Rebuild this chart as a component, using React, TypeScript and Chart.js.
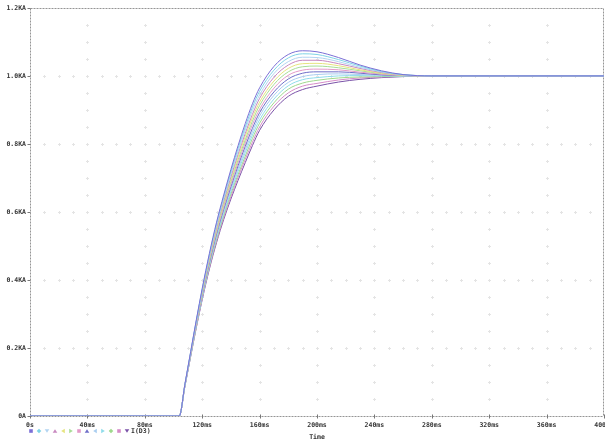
import React, { useEffect, useRef } from 'react';
import { Chart, registerables } from 'chart.js';

Chart.register(...registerables);

// ---- data (time in ms, current in kA) ----
const timesMs = [0, 104, 108, 112, 116, 120, 125, 130, 135, 140, 145, 150, 155, 160, 170, 180, 190, 200, 215, 230, 245, 260, 280, 320, 400];

const trace01 = [0, 0, 0.095, 0.190, 0.285, 0.375, 0.478, 0.570, 0.650, 0.725, 0.795, 0.860, 0.918, 0.965, 1.028, 1.063, 1.074, 1.071, 1.054, 1.032, 1.015, 1.004, 1, 1, 1];
const trace02 = [0, 0, 0.094, 0.189, 0.283, 0.372, 0.474, 0.565, 0.644, 0.718, 0.787, 0.850, 0.908, 0.955, 1.017, 1.053, 1.065, 1.063, 1.048, 1.029, 1.013, 1.004, 1, 1, 1];
const trace03 = [0, 0, 0.094, 0.188, 0.281, 0.370, 0.470, 0.560, 0.638, 0.711, 0.778, 0.841, 0.898, 0.944, 1.007, 1.042, 1.055, 1.054, 1.042, 1.025, 1.012, 1.003, 1, 1, 1];
const trace04 = [0, 0, 0.093, 0.186, 0.279, 0.367, 0.467, 0.555, 0.632, 0.703, 0.770, 0.831, 0.887, 0.934, 0.996, 1.032, 1.046, 1.046, 1.036, 1.022, 1.010, 1.003, 1, 1, 1];
const trace05 = [0, 0, 0.093, 0.185, 0.277, 0.364, 0.463, 0.550, 0.626, 0.696, 0.761, 0.822, 0.877, 0.923, 0.985, 1.022, 1.036, 1.037, 1.030, 1.018, 1.008, 1.002, 1, 1, 1];
const trace06 = [0, 0, 0.092, 0.184, 0.275, 0.361, 0.459, 0.545, 0.620, 0.689, 0.753, 0.812, 0.867, 0.913, 0.975, 1.012, 1.027, 1.029, 1.024, 1.015, 1.007, 1.002, 1, 1, 1];
const trace07 = [0, 0, 0.092, 0.183, 0.274, 0.359, 0.455, 0.540, 0.614, 0.682, 0.744, 0.803, 0.857, 0.902, 0.964, 1.002, 1.017, 1.020, 1.018, 1.011, 1.005, 1.001, 1, 1, 1];
const trace08 = [0, 0, 0.091, 0.182, 0.272, 0.356, 0.451, 0.535, 0.608, 0.674, 0.736, 0.793, 0.846, 0.892, 0.953, 0.991, 1.008, 1.012, 1.012, 1.008, 1.003, 1.001, 1, 1, 1];
const trace09 = [0, 0, 0.090, 0.181, 0.270, 0.353, 0.447, 0.530, 0.602, 0.667, 0.727, 0.783, 0.836, 0.882, 0.943, 0.981, 0.998, 1.004, 1.006, 1.004, 1.002, 1.000, 1, 1, 1];
const trace10 = [0, 0, 0.090, 0.179, 0.268, 0.350, 0.444, 0.525, 0.596, 0.660, 0.719, 0.774, 0.826, 0.871, 0.932, 0.971, 0.989, 0.995, 1.000, 1.001, 1.000, 1.000, 1, 1, 1];
const trace11 = [0, 0, 0.089, 0.178, 0.266, 0.348, 0.440, 0.520, 0.590, 0.653, 0.710, 0.764, 0.816, 0.861, 0.921, 0.961, 0.979, 0.987, 0.994, 0.997, 0.998, 0.999, 1, 1, 1];
const trace12 = [0, 0, 0.089, 0.177, 0.264, 0.345, 0.436, 0.515, 0.584, 0.645, 0.702, 0.755, 0.805, 0.850, 0.911, 0.950, 0.970, 0.978, 0.988, 0.994, 0.997, 0.999, 1, 1, 1];
const trace13 = [0, 0, 0.088, 0.176, 0.262, 0.342, 0.432, 0.510, 0.578, 0.638, 0.693, 0.745, 0.795, 0.840, 0.900, 0.940, 0.960, 0.970, 0.982, 0.990, 0.995, 0.998, 1, 1, 1];

const traces = [trace01, trace02, trace03, trace04, trace05, trace06, trace07, trace08, trace09, trace10, trace11, trace12, trace13];
const traceName = 'I(D3)';

const xTickValues = [0, 40, 80, 120, 160, 200, 240, 280, 320, 360, 400];
const xTickLabels = ['0s', '40ms', '80ms', '120ms', '160ms', '200ms', '240ms', '280ms', '320ms', '360ms', '400ms'];
const yTickValues = [0, 0.2, 0.4, 0.6, 0.8, 1.0, 1.2];
const yTickLabels = ['0A', '0.2KA', '0.4KA', '0.6KA', '0.8KA', '1.0KA', '1.2KA'];
const xTitle = 'Time';

// ---- styles ----
const traceColors = [
  '#7b6fd6', '#7fd3e6', '#b2d4f2', '#c889c0', '#e6e47e', '#a8dd96', '#e39ac8',
  '#6e6ec8', '#a9cdf0', '#8fdcea', '#9fd98c', '#d58cc8', '#7a52a8',
];
const markerShapes = ['square', 'diamond', 'down', 'up', 'left', 'right', 'square', 'up', 'left', 'right', 'diamond', 'square', 'down'];
const labelFont = { family: 'DejaVu Sans Mono', size: 6.5, weight: 'bold' as const };
const labelColor = '#333';

function drawMarker(ctx: CanvasRenderingContext2D, shape: string, cx: number, cy: number, color: string) {
  const r = 1.8;
  ctx.fillStyle = color;
  ctx.beginPath();
  if (shape === 'square') {
    ctx.rect(cx - r, cy - r, 2 * r, 2 * r);
  } else if (shape === 'diamond') {
    ctx.moveTo(cx, cy - r - 0.5); ctx.lineTo(cx + r + 0.5, cy); ctx.lineTo(cx, cy + r + 0.5); ctx.lineTo(cx - r - 0.5, cy);
  } else if (shape === 'down') {
    ctx.moveTo(cx - r - 0.5, cy - r); ctx.lineTo(cx + r + 0.5, cy - r); ctx.lineTo(cx, cy + r);
  } else if (shape === 'up') {
    ctx.moveTo(cx - r - 0.5, cy + r); ctx.lineTo(cx + r + 0.5, cy + r); ctx.lineTo(cx, cy - r);
  } else if (shape === 'left') {
    ctx.moveTo(cx + r, cy - r - 0.5); ctx.lineTo(cx + r, cy + r + 0.5); ctx.lineTo(cx - r, cy);
  } else {
    ctx.moveTo(cx - r, cy - r - 0.5); ctx.lineTo(cx - r, cy + r + 0.5); ctx.lineTo(cx + r, cy);
  }
  ctx.closePath();
  ctx.fill();
}

const framePlugin = {
  id: 'pspiceFrame',
  beforeDatasetsDraw(chart: any) {
    const { ctx, chartArea: a, scales } = chart;
    const xs = scales.x;
    const ys = scales.y;
    ctx.save();
    // sparse dotted grid (very faint)
    ctx.fillStyle = '#e4e4e4';
    const dot = (px: number, py: number) => {
      ctx.fillRect(px - 1, py, 3, 1);
      ctx.fillRect(px, py - 1, 1, 3);
    };
    for (let i = 1; i < xTickValues.length - 1; i++) {
      const px = Math.round(xs.getPixelForValue(xTickValues[i]));
      for (let j = 1; j < 24; j++) {
        dot(px, Math.round(ys.getPixelForValue(j * 0.05)));
      }
    }
    for (let i = 1; i < yTickValues.length - 1; i++) {
      const py = Math.round(ys.getPixelForValue(yTickValues[i]));
      for (let j = 1; j < 40; j++) {
        dot(Math.round(xs.getPixelForValue(j * 10)), py);
      }
    }
    // dashed frame
    ctx.strokeStyle = '#959595';
    ctx.lineWidth = 1;
    ctx.setLineDash([2, 1]);
    const L = Math.round(a.left) + 0.5;
    const R = Math.round(a.right) - 0.5;
    const T = Math.round(a.top) + 0.5;
    const B = Math.round(a.bottom) + 0.5;
    ctx.beginPath();
    ctx.moveTo(L, T); ctx.lineTo(R, T);
    ctx.moveTo(L, B); ctx.lineTo(R, B);
    ctx.moveTo(L, T); ctx.lineTo(L, B);
    ctx.moveTo(R, T); ctx.lineTo(R, B);
    ctx.stroke();
    ctx.setLineDash([]);
    // tick marks
    ctx.strokeStyle = '#777';
    ctx.beginPath();
    for (const v of yTickValues) {
      const py = Math.round(ys.getPixelForValue(v)) + 0.5;
      ctx.moveTo(L - 3, py); ctx.lineTo(L, py);
    }
    for (const v of xTickValues) {
      const px = Math.round(xs.getPixelForValue(v)) + 0.5;
      ctx.moveTo(px, B - 2); ctx.lineTo(px, B + 2);
    }
    ctx.stroke();
    ctx.restore();
  },
  afterDraw(chart: any) {
    const { ctx } = chart;
    ctx.save();
    const ly = 431;
    for (let i = 0; i < traces.length; i++) {
      drawMarker(ctx, markerShapes[i % markerShapes.length], 31 + i * 8, ly, traceColors[i]);
    }
    ctx.fillStyle = labelColor;
    ctx.font = `bold ${labelFont.size}px "${labelFont.family}"`;
    ctx.textBaseline = 'middle';
    ctx.textAlign = 'left';
    ctx.fillText(traceName, 131, ly);
    ctx.restore();
  },
};

export default function App() {
  const ref = useRef<HTMLCanvasElement>(null);

  useEffect(() => {
    document.body.style.margin = '0';
    document.body.style.overflow = 'hidden';
    const datasets = traces.map((vals, k) => ({
      label: `${traceName} ${k + 1}`,
      data: timesMs.map((t, i) => ({ x: t, y: vals[i] })),
      borderColor: traceColors[k],
      backgroundColor: traceColors[k],
      borderWidth: 1,
      pointRadius: 0,
      fill: false,
      cubicInterpolationMode: 'monotone' as const,
    }));

    const chart = new Chart(ref.current!, {
      type: 'line',
      data: { datasets },
      plugins: [framePlugin],
      options: {
        responsive: false,
        animation: false,
        devicePixelRatio: 1,
        events: [],
        layout: { padding: { top: 7, right: 1, left: 0, bottom: 0 } },
        plugins: { legend: { display: false }, tooltip: { enabled: false } },
        scales: {
          x: {
            type: 'linear',
            min: 0,
            max: 400,
            afterBuildTicks: (s: any) => { s.ticks = xTickValues.map((v) => ({ value: v })); },
            afterFit: (s: any) => { s.height = 25; s.paddingLeft = 0; s.paddingRight = 0; },
            grid: { display: false, drawTicks: false },
            border: { display: false },
            ticks: {
              autoSkip: false,
              maxRotation: 0,
              padding: 5,
              color: labelColor,
              font: labelFont,
              callback: (_v: any, i: number) => xTickLabels[i],
            },
            title: {
              display: true,
              text: xTitle,
              color: labelColor,
              font: { ...labelFont, lineHeight: 1 },
              padding: { top: 0, bottom: 0 },
            },
          },
          y: {
            type: 'linear',
            min: 0,
            max: 1.2,
            afterBuildTicks: (s: any) => { s.ticks = yTickValues.map((v) => ({ value: v })); },
            afterFit: (s: any) => { s.width = 30; },
            grid: { display: false, drawTicks: false },
            border: { display: false },
            ticks: {
              padding: 4,
              color: labelColor,
              font: labelFont,
              callback: (_v: any, i: number) => yTickLabels[i],
            },
          },
        },
      },
    });
    return () => chart.destroy();
  }, []);

  return (
    <div style={{ position: 'fixed', left: 0, top: 0, width: 605, height: 441, background: '#fff' }}>
      <canvas ref={ref} width={605} height={441} style={{ display: 'block', width: 605, height: 441 }} />
    </div>
  );
}
